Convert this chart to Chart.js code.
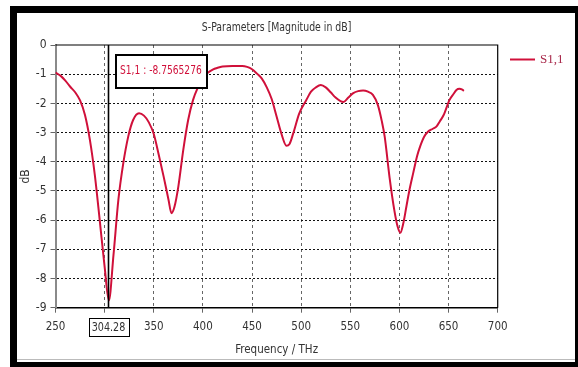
<!DOCTYPE html>
<html>
<head>
<meta charset="utf-8">
<script src="https://cdn.jsdelivr.net/npm/chart.js@4.4.1/dist/chart.umd.min.js"></script>
<style>
html,body{margin:0;padding:0;background:#fff;}
#wrap{position:absolute;left:0;top:0;width:578px;height:367px;}
</style>
</head>
<body>
<div id="wrap"><canvas id="c" width="578" height="367"></canvas></div>
<script>
// ---- data ----
const freqs = [250,255,260,265,270,275,280,285,290,295,300,304.28,309,314,319,324,329,335,340,345,350,355,360,365,368,371,375,380,385,390,395,400,405,410,415,420,430,440,445,450,455,460,465,470,475,480,485,488,492,498,505,510,515,520,525,530,535,540,543,548,553,558,563,568,573,578,582,585,590,595,598,601,604,607,610,614,618,621,625,629,634,638,641,645,651,655,658,661,664,665.6];
const s11 = [-0.95,-1.05,-1.22,-1.43,-1.62,-1.9,-2.4,-3.25,-4.45,-6.0,-7.6,-8.7565,-7.2,-5.3,-4.05,-3.14,-2.57,-2.34,-2.42,-2.65,-3.05,-3.75,-4.5,-5.3,-5.76,-5.55,-4.85,-3.6,-2.57,-1.88,-1.45,-1.12,-0.95,-0.84,-0.78,-0.74,-0.72,-0.72,-0.75,-0.83,-0.98,-1.15,-1.45,-1.85,-2.45,-3.05,-3.45,-3.4,-3.02,-2.35,-1.9,-1.6,-1.45,-1.37,-1.45,-1.62,-1.8,-1.92,-1.95,-1.8,-1.65,-1.58,-1.56,-1.6,-1.71,-2.05,-2.6,-3.14,-4.55,-5.7,-6.2,-6.43,-6.1,-5.55,-5.0,-4.39,-3.8,-3.48,-3.15,-2.97,-2.87,-2.78,-2.62,-2.4,-1.88,-1.68,-1.54,-1.5,-1.53,-1.57];
const xTicks = [250,300,350,400,450,500,550,600,650,700];
const yTicks = [0,-1,-2,-3,-4,-5,-6,-7,-8,-9];
const seriesName = 'S1,1';
const chartTitle = 'S-Parameters [Magnitude in dB]';
const xTitle = 'Frequency / THz';
const yTitle = 'dB';
const markerFreq = 304.28;
const markerValue = -8.7565276;

const FONT = "'DejaVu Sans Condensed','Liberation Sans Narrow',sans-serif";
const RED = '#d0103a';

function narrowText(ctx, text, x, y, size, sx, align) {
  ctx.save();
  ctx.font = size + 'px ' + FONT;
  ctx.textAlign = align;
  ctx.textBaseline = 'middle';
  ctx.translate(x, y);
  ctx.scale(sx, 1);
  ctx.fillText(text, 0, 0);
  ctx.restore();
}

const decor = {
  id: 'decor',
  beforeDraw(chart) {
    const ctx = chart.ctx;
    ctx.save();
    ctx.fillStyle = '#fff';
    ctx.fillRect(0, 0, 578, 367);
    ctx.fillStyle = '#000';
    ctx.fillRect(10, 6, 568, 361);
    ctx.fillStyle = '#fff';
    ctx.fillRect(17, 13, 558, 349);
    ctx.strokeStyle = '#bbb';
    ctx.lineWidth = 1;
    ctx.beginPath(); ctx.moveTo(17, 359.5); ctx.lineTo(575, 359.5); ctx.stroke();
    ctx.restore();
  },
  afterDraw(chart) {
    const ctx = chart.ctx;
    const a = chart.chartArea;
    const xs = chart.scales.x;
    ctx.save();
    // top & right border
    ctx.strokeStyle = '#000';
    ctx.lineWidth = 1.2;
    ctx.beginPath();
    ctx.moveTo(a.left, a.top); ctx.lineTo(a.right, a.top); ctx.lineTo(a.right, a.bottom);
    ctx.stroke();
    // title
    ctx.fillStyle = '#333';
    narrowText(ctx, chartTitle, (a.left + a.right) / 2, 28, 13, 0.8, 'center');
    // legend
    ctx.strokeStyle = RED;
    ctx.lineWidth = 2;
    ctx.beginPath(); ctx.moveTo(510, 59.5); ctx.lineTo(535, 59.5); ctx.stroke();
    ctx.fillStyle = '#a8284a';
    ctx.font = "13px 'Liberation Serif',serif";
    ctx.textAlign = 'left';
    ctx.textBaseline = 'middle';
    ctx.fillText(seriesName, 540, 60);
    // marker line
    const mx = Math.round(xs.getPixelForValue(markerFreq)) - 0.5;
    ctx.strokeStyle = '#000';
    ctx.lineWidth = 1.6;
    ctx.beginPath(); ctx.moveTo(mx, a.top); ctx.lineTo(mx, a.bottom); ctx.stroke();
    // marker value box
    ctx.fillStyle = '#fff';
    ctx.fillRect(116, 55, 91, 33);
    ctx.strokeStyle = '#000';
    ctx.lineWidth = 2;
    ctx.strokeRect(116, 55, 91, 33);
    ctx.fillStyle = RED;
    narrowText(ctx, seriesName + ' : ' + markerValue.toFixed(7), 120, 71, 13, 0.78, 'left');
    // marker tick label box
    const txt = markerFreq.toFixed(2);
    ctx.fillStyle = '#fff';
    ctx.fillRect(mx - 20, 318, 40, 18);
    ctx.strokeStyle = '#000';
    ctx.lineWidth = 1;
    ctx.strokeRect(Math.round(mx - 20) + 0.5, 318.5, 40, 18);
    ctx.fillStyle = '#333';
    narrowText(ctx, txt, mx, 327.5, 13, 0.82, 'center');
    ctx.restore();
  }
};

new Chart(document.getElementById('c'), {
  type: 'line',
  data: {
    datasets: [{
      label: seriesName,
      data: freqs.map((f, i) => ({x: f, y: s11[i]})),
      borderColor: RED,
      borderWidth: 2,
      pointRadius: 0,
      cubicInterpolationMode: 'monotone',
      fill: false
    }]
  },
  options: {
    responsive: false,
    animation: false,
    events: [],
    layout: {padding: {left: 0, right: 80.3, top: 45, bottom: 0}},
    plugins: {legend: {display: false}, title: {display: false}, tooltip: {enabled: false}},
    scales: {
      x: {
        type: 'linear',
        min: 250, max: 700,
        afterBuildTicks(s) { s.ticks = xTicks.map(v => ({value: v})); },
        afterFit(s) { s.height = 59.3; },
        ticks: {
          color: '#333',
          font: {family: FONT, size: 11.5},
          padding: 7,
          maxRotation: 0,
          autoSkip: false,
          callback: v => (v === 300 ? '' : String(v))
        },
        grid: {
          color: ctx => (ctx.tick && (ctx.tick.value === 250 || ctx.tick.value === 700)) ? 'rgba(0,0,0,0)' : '#666',
          lineWidth: 1,
          tickLength: 5,
          tickColor: '#666',
          tickBorderDash: []
        },
        border: {display: true, color: '#000', width: 1.5, dash: [3, 3]},
        title: {display: true, text: xTitle, color: '#333', font: {family: FONT, size: 11.5}, padding: {top: 0, bottom: 10}}
      },
      y: {
        type: 'linear',
        min: -9, max: 0,
        afterBuildTicks(s) { s.ticks = yTicks.map(v => ({value: v})); },
        afterFit(s) { s.width = 55.5; },
        ticks: {
          color: '#333',
          font: {family: FONT, size: 12},
          padding: 4,
          callback: v => String(v)
        },
        grid: {
          color: ctx => (ctx.tick && (ctx.tick.value === 0 || ctx.tick.value === -9)) ? 'rgba(0,0,0,0)' : '#111',
          lineWidth: 1,
          tickLength: 5,
          tickColor: '#666',
          tickBorderDash: []
        },
        border: {display: true, color: '#8a8a8a', width: 2, dash: [2, 2]},
        title: {display: true, text: yTitle, color: '#333', font: {family: FONT, size: 12}, padding: {top: 19, bottom: 0}}
      }
    }
  },
  plugins: [decor]
});
</script>
</body>
</html>
